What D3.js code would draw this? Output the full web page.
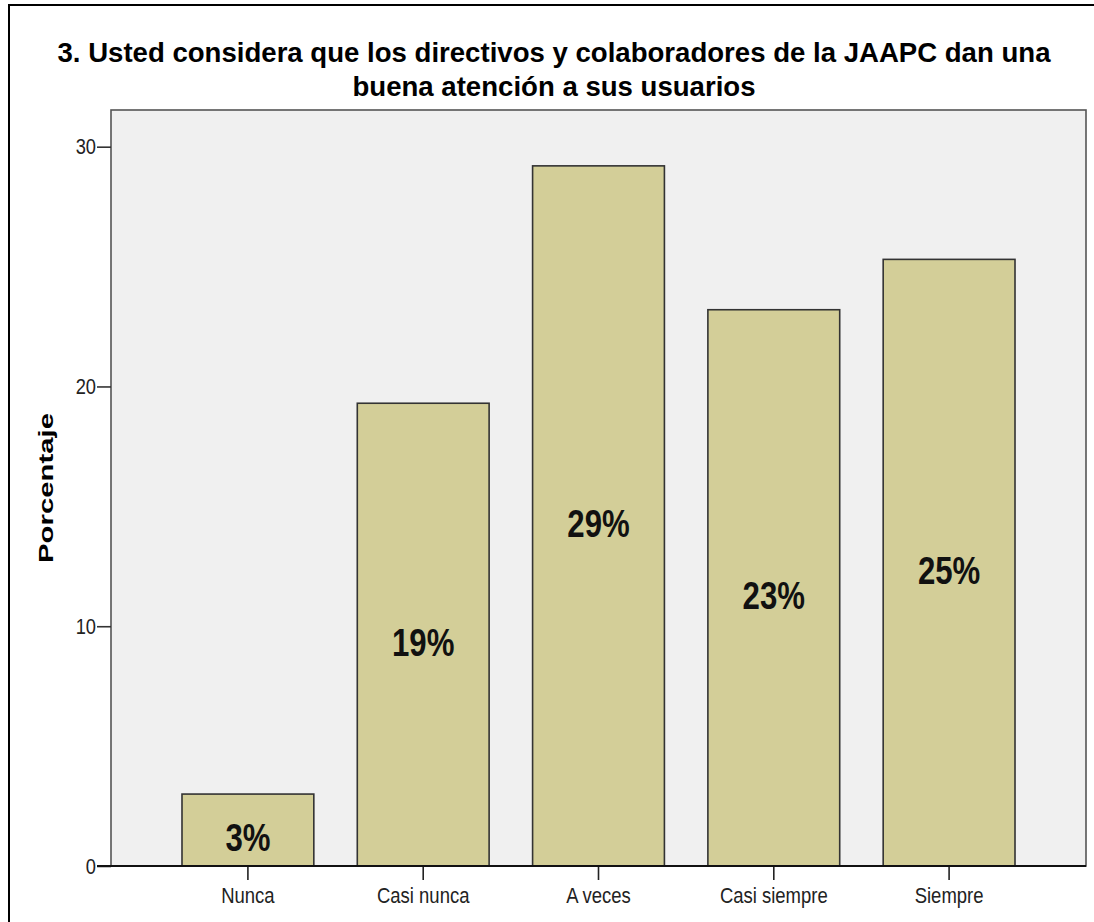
<!DOCTYPE html>
<html>
<head>
<meta charset="utf-8">
<script src="https://cdn.jsdelivr.net/npm/d3@7"></script>
<style>
  body { margin: 0; background: #fff; }
  text { font-family: "Liberation Sans", Arial, sans-serif; }
</style>
</head>
<body>
<svg id="chart" width="1094" height="922"></svg>
<script>
// Chart content
const titleLines = [
  "3. Usted considera que los directivos y colaboradores de la JAAPC dan una",
  "buena atención a sus usuarios"
];
const categories = ["Nunca", "Casi nunca", "A veces", "Casi siempre", "Siempre"];
const percentages = [3.0, 19.3, 29.2, 23.2, 25.3];
const yTicks = [0, 10, 20, 30];
const yLabel = "Porcentaje";

// Layout
const W = 1094, H = 922;
const plot = { left: 111, top: 110, right: 1086, bottom: 866 };

const svg = d3.select("#chart");

// Squeeze text horizontally by a factor, keeping its anchor
function squeeze(sel, factor) {
  sel.each(function () {
    const len = this.getComputedTextLength();
    d3.select(this).attr("textLength", len * factor).attr("lengthAdjust", "spacingAndGlyphs");
  });
}

// Outer frame
svg.append("rect")
  .attr("x", 9).attr("y", 5).attr("width", W).attr("height", H + 20)
  .attr("fill", "#fff").attr("stroke", "#000").attr("stroke-width", 2);

// Title
const title = svg.append("g").selectAll("text").data(titleLines).join("text")
  .attr("x", 554)
  .attr("y", (d, i) => 62 + i * 34)
  .attr("text-anchor", "middle")
  .attr("font-size", 28)
  .attr("font-weight", "bold")
  .attr("fill", "#000")
  .text(d => d);
{
  const natural = title.nodes()[0].getComputedTextLength();
  squeeze(title, 993 / natural);
}

// Scales
const x = d3.scaleBand()
  .domain(categories)
  .range([plot.left, plot.right])
  .paddingInner(0.248)
  .paddingOuter(0.405);

const y = d3.scaleLinear()
  .domain([0, 31.53])
  .range([plot.bottom, plot.top]);

// Plot background
svg.append("rect")
  .attr("x", plot.left).attr("y", plot.top)
  .attr("width", plot.right - plot.left).attr("height", plot.bottom - plot.top)
  .attr("fill", "#F0F0F0")
  .attr("stroke", "#555").attr("stroke-width", 1.6);

// Bars
svg.append("g").selectAll("rect").data(percentages).join("rect")
  .attr("x", (d, i) => x(categories[i]))
  .attr("y", d => y(d))
  .attr("width", x.bandwidth())
  .attr("height", d => y(0) - y(d))
  .attr("fill", "#D3CE98")
  .attr("stroke", "#333")
  .attr("stroke-width", 1.6);

// Value labels
const vlab = svg.append("g").selectAll("text").data(percentages).join("text")
  .attr("x", (d, i) => x(categories[i]) + x.bandwidth() / 2)
  .attr("y", d => (y(d) + y(0)) / 2 + 21)
  .attr("text-anchor", "middle")
  .attr("font-size", 38)
  .attr("font-weight", "bold")
  .attr("fill", "#111")
  .text(d => Math.round(d) + "%");
squeeze(vlab, 0.82);

// Y axis
const yAxis = svg.append("g")
  .attr("transform", `translate(${plot.left},0)`)
  .call(d3.axisLeft(y).tickValues(yTicks).tickSize(14).tickPadding(1).tickFormat(d3.format("d")));
yAxis.select(".domain").remove();
yAxis.selectAll(".tick line").attr("stroke", "#333").attr("stroke-width", 1.6);
yAxis.selectAll(".tick text")
  .attr("font-size", 22).attr("fill", "#222").attr("font-family", null);
squeeze(yAxis.selectAll(".tick text"), 0.83);

// X axis
const xAxis = svg.append("g")
  .attr("transform", `translate(0,${plot.bottom})`)
  .call(d3.axisBottom(x).tickSize(14).tickPadding(7));
xAxis.select(".domain").remove();
xAxis.selectAll(".tick line").attr("stroke", "#222").attr("stroke-width", 1.6);
xAxis.selectAll(".tick text")
  .attr("font-size", 22).attr("fill", "#222").attr("font-family", null);
squeeze(xAxis.selectAll(".tick text"), 0.84);

// Baseline
svg.append("line")
  .attr("x1", plot.left - 14).attr("x2", plot.right)
  .attr("y1", plot.bottom).attr("y2", plot.bottom)
  .attr("stroke", "#111").attr("stroke-width", 1.8);

// Y axis title
svg.append("text")
  .attr("transform", `translate(53,488) rotate(-90)`)
  .attr("text-anchor", "middle")
  .attr("font-size", 20)
  .attr("font-weight", "bold")
  .attr("fill", "#000")
  .attr("textLength", 150)
  .attr("lengthAdjust", "spacingAndGlyphs")
  .text(yLabel);
</script>
</body>
</html>
